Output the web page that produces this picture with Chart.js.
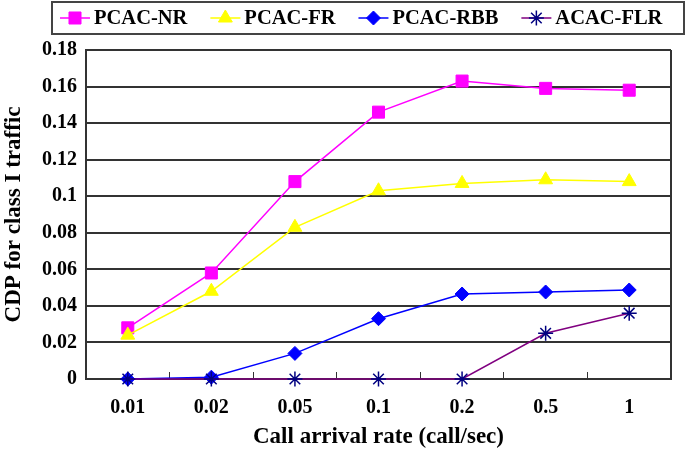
<!DOCTYPE html>
<html>
<head>
<meta charset="utf-8">
<script src="https://cdn.jsdelivr.net/npm/chart.js@4.4.0/dist/chart.umd.min.js"></script>
<style>
html,body{margin:0;padding:0;background:#fff}
#wrap{width:686px;height:451px}
</style>
</head>
<body>
<div id="wrap"><canvas id="cdpChart" width="686" height="451"></canvas></div>
<script>
// values
const rates = ["0.01","0.02","0.05","0.1","0.2","0.5","1"]
const pcacNR = [0.028,0.058,0.108,0.146,0.163,0.159,0.158]
const pcacFR = [0.024,0.048,0.083,0.103,0.107,0.109,0.108]
const pcacRBB = [0,0.001,0.014,0.033,0.0465,0.0476,0.0487]
const acacFLR = [0,0,0,0,0,0.025,0.036]
const seriesNames = ["PCAC-NR","PCAC-FR","PCAC-RBB","ACAC-FLR"]

const serif = "'Liberation Serif','Times New Roman',serif"

// legend box with a line + marker sample per series
const legendBox = {
id:'legendBox',
afterDraw(chart){
const ctx = chart.ctx
ctx.save()
ctx.strokeStyle = '#444'
ctx.lineWidth = 2
ctx.strokeRect(52,2,632,32)
ctx.font = "bold 20.5px " + serif
ctx.textBaseline = 'middle'
let x = 60
const y = 18
chart.data.datasets.forEach(ds => {
ctx.strokeStyle = ds.borderColor
ctx.lineWidth = 1.5
ctx.beginPath()
ctx.moveTo(x,y)
ctx.lineTo(x+30,y)
ctx.stroke()
ctx.fillStyle = ds.pointBackgroundColor
ctx.strokeStyle = ds.pointBorderColor
ctx.lineWidth = ds.pointBorderWidth
Chart.helpers.drawPoint(ctx,{pointStyle:ds.pointStyle,radius:ds.pointRadius,borderWidth:ds.pointBorderWidth,rotation:0},x+15,y)
ctx.fillStyle = '#000'
ctx.fillText(ds.label,x+34,y+1)
x += 34 + ctx.measureText(ds.label).width + 23
})
ctx.restore()
}
}

// right-hand frame line of the plot area
const rightFrame = {
id:'rightFrame',
afterDraw(chart){
const a = chart.chartArea
const ctx = chart.ctx
ctx.save()
ctx.strokeStyle = '#333'
ctx.lineWidth = 2
ctx.beginPath()
ctx.moveTo(a.right,a.top)
ctx.lineTo(a.right,a.bottom)
ctx.stroke()
ctx.restore()
}
}

const ctx = document.getElementById("cdpChart")

new Chart(ctx,{
type:'line',
data:{
labels:rates,
datasets:[
{label:seriesNames[0],data:pcacNR,borderColor:'#ff00ff',pointBackgroundColor:'#ff00ff',pointBorderColor:'#ff00ff',pointStyle:'rect',pointRadius:8.5,pointBorderWidth:1,order:4},
{label:seriesNames[1],data:pcacFR,borderColor:'#ffff00',pointBackgroundColor:'#ffff00',pointBorderColor:'#ffff00',pointStyle:'triangle',pointRadius:8,pointBorderWidth:1,order:3},
{label:seriesNames[2],data:pcacRBB,borderColor:'#0000ff',pointBackgroundColor:'#0000ff',pointBorderColor:'#0000ff',pointStyle:'rectRot',pointRadius:7,pointBorderWidth:1,order:2},
{label:seriesNames[3],data:acacFLR,borderColor:'#800080',pointBackgroundColor:'#000080',pointBorderColor:'#000080',pointStyle:'star',pointRadius:7.5,pointBorderWidth:1.5,order:1}
]
},
options:{
responsive:false,
animation:false,
devicePixelRatio:1,
datasets:{line:{borderWidth:1.5,tension:0,clip:false}},
layout:{padding:{top:50,right:15,left:0,bottom:0}},
plugins:{legend:{display:false},tooltip:{enabled:false}},
scales:{
x:{
offset:true,
grid:{offset:true,drawOnChartArea:false,tickLength:-7,color:'#333',lineWidth:1},
border:{color:'#333',width:2},
ticks:{padding:24,color:'#000',font:{family:serif,weight:'bold',size:20}},
title:{display:true,text:'Call arrival rate (call/sec)',color:'#000',padding:{top:0,bottom:0},font:{family:serif,weight:'bold',size:23}},
afterFit(scale){scale.height = 72}
},
y:{
min:0,
max:0.18,
ticks:{stepSize:0.02,padding:9,color:'#000',font:{family:serif,weight:'bold',size:20},
callback:v => String(Number(v.toFixed(2)))},
grid:{color:'#333',lineWidth:2,drawTicks:false},
border:{color:'#333',width:2},
title:{display:true,text:'CDP for class I traffic',color:'#000',padding:{top:0,bottom:0},font:{family:serif,weight:'bold',size:23}},
afterFit(scale){scale.width = 86}
}
}
},
plugins:[legendBox,rightFrame]
})
</script>
</body>
</html>
